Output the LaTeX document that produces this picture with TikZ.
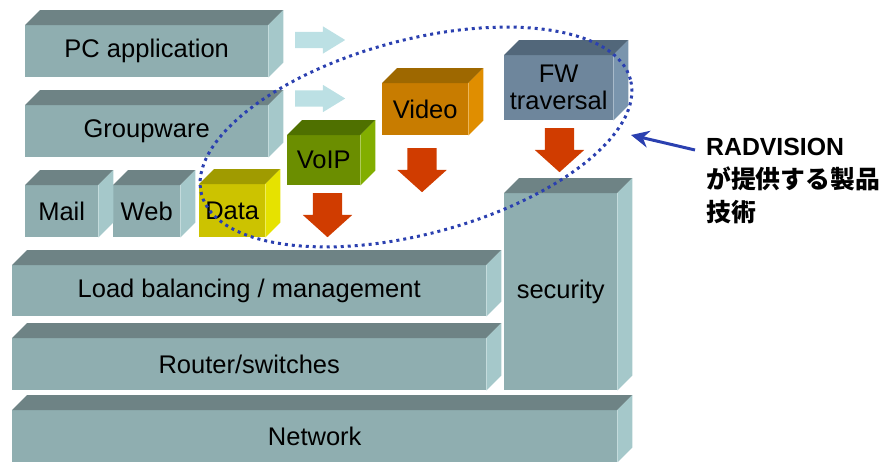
\documentclass[tikz,border=0pt]{standalone}
\usepackage{fontspec}
\setmainfont{Liberation Sans}
\newfontfamily\jpfont{Noto Sans CJK JP}
\usetikzlibrary{arrows.meta,calc,shapes.geometric,shapes.arrows}
\definecolor{slab}{HTML}{8FAEB0}
\definecolor{slabT}{HTML}{6E8385}
\definecolor{slabS}{HTML}{A5C8CA}
\definecolor{data}{HTML}{CCC300}
\definecolor{dataT}{HTML}{A09B00}
\definecolor{dataS}{HTML}{E6E200}
\definecolor{voip}{HTML}{6B8E00}
\definecolor{voipT}{HTML}{4F7000}
\definecolor{voipS}{HTML}{82AE00}
\definecolor{video}{HTML}{C87C00}
\definecolor{videoT}{HTML}{9E6800}
\definecolor{videoS}{HTML}{E08E00}
\definecolor{fw}{HTML}{6E869C}
\definecolor{fwT}{HTML}{52677A}
\definecolor{fwS}{HTML}{7A95AD}
\definecolor{drop}{HTML}{D03C00}
\definecolor{flow}{HTML}{BCE0E4}
\definecolor{ring}{HTML}{2B40B0}
\tikzset{
  layer/.style={rectangle,inner sep=0pt,anchor=north west,fill=#1,font=\fontsize{25.5}{27}\selectfont,align=center},
  down/.style={single arrow,fill=drop,rotate=-90,anchor=tail,inner xsep=0pt,inner ysep=14.5pt,minimum height=44pt,
    single arrow head extend=10pt,single arrow tip angle=96},
  across/.style={single arrow,fill=flow,anchor=tail,inner xsep=0pt,inner ysep=8pt,minimum height=50pt,
    single arrow head extend=5.5pt,single arrow tip angle=63},
  offerring/.style={ellipse,draw=ring,line width=3pt,dash pattern=on 3pt off 4pt,inner sep=0pt},
  pointer/.style={-{Stealth[length=18pt,width=17pt]},draw=ring,line width=3pt},
}
\begin{document}
\begin{tikzpicture}[x=1pt,y=-1pt]
\useasboundingbox (0,0) rectangle (885,461);
\node[layer=slab,minimum width=243pt,minimum height=52pt] (pcapp) at (25,25) {PC application};
\node[layer=slab,minimum width=243pt,minimum height=52pt] (groupw) at (25,105) {Groupware};
\node[layer=slab,minimum width=73pt,minimum height=52pt] (mail) at (25,185) {Mail};
\node[layer=slab,minimum width=67pt,minimum height=52pt] (web) at (113,185) {Web};
\node[layer=data,minimum width=66pt,minimum height=53pt] (datab) at (199,184) {Data};
\node[layer=voip,minimum width=73pt,minimum height=50pt] (voipb) at (287,135) {VoIP};
\node[layer=video,minimum width=86pt,minimum height=52pt] (videob) at (382,83) {Video};
\node[layer=fw,minimum width=109pt,minimum height=65pt] (fwb) at (504,55) {FW\\traversal};
\node[layer=slab,minimum width=474pt,minimum height=51pt] (loadb) at (12,265) {Load balancing / management};
\node[layer=slab,minimum width=474pt,minimum height=52pt] (router) at (12,338) {Router/switches};
\node[layer=slab,minimum width=113pt,minimum height=197pt] (secu) at (504,193) {security};
\node[layer=slab,minimum width=605pt,minimum height=52pt] (network) at (12,410) {Network};
% top and side faces
\foreach \n/\c in {pcapp/slab,groupw/slab,mail/slab,web/slab,datab/data,voipb/voip,videob/video,
    fwb/fw,loadb/slab,router/slab,secu/slab,network/slab}{
  \fill[\c T] (\n.north west) -- ++(15,-15) -- ([shift={(15,-15)}]\n.north east) -- (\n.north east) -- cycle;
  \fill[\c S] (\n.north east) -- ++(15,-15) -- ([shift={(15,-15)}]\n.south east) -- (\n.south east) -- cycle;
}
\node[across] (flow1) at (295,40) {};
\node[across] (flow2) at (295,98.5) {};
\node[down] (drop1) at (327.5,193) {};
\node[down] (drop2) at (422,148) {};
\node[down] (drop3) at (559.5,128) {};
\node[offerring,rotate=15,minimum width=444pt,minimum height=194pt] (offer) at (416,137) {};
\node[anchor=north west,inner sep=0pt,align=left,font=\bfseries\fontsize{24.8}{33}\selectfont] (radv) at (706,138)
  {RADVISION\\{\jpfont が提供する製品}\\{\jpfont 技術}};
\coordinate (hit) at (631,135);
\draw[pointer] ($(radv.north west)+(-11,12)$) -- (hit);
\end{tikzpicture}
\end{document}
